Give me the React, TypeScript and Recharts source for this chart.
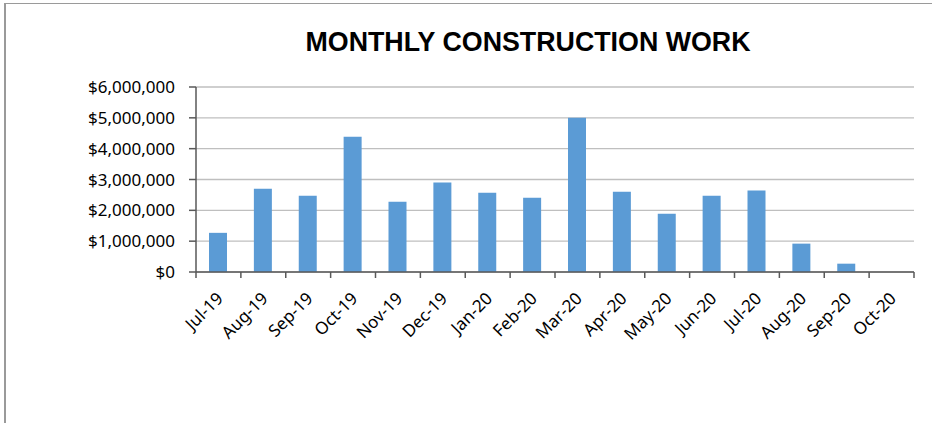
import React from "react";
import { BarChart, Bar, XAxis, YAxis, CartesianGrid } from "recharts";

const months = [
  "Jul-19", "Aug-19", "Sep-19", "Oct-19", "Nov-19", "Dec-19", "Jan-20", "Feb-20",
  "Mar-20", "Apr-20", "May-20", "Jun-20", "Jul-20", "Aug-20", "Sep-20", "Oct-20",
];
const workValues = [
  1270000, 2700000, 2470000, 4390000, 2280000, 2900000, 2570000, 2410000,
  5000000, 2600000, 1890000, 2470000, 2640000, 920000, 270000, 0,
];
const yTicks = [0, 1000000, 2000000, 3000000, 4000000, 5000000, 6000000];

const data = months.map((m, i) => ({ month: m, value: workValues[i] }));

const W = 932;
const H = 423;
const PLOT_LEFT = 196;
const PLOT_RIGHT = 914;
const PLOT_TOP = 87;
const PLOT_BOTTOM = 272;
const BAND = (PLOT_RIGHT - PLOT_LEFT) / months.length;
const AXIS = "#595959";
const TITLE_FONT = "'Liberation Sans', Arial, sans-serif";
const FONT = "'Noto Sans', 'Open Sans', sans-serif";

const money = (v: number) => "$" + v.toLocaleString("en-US");

const MonthTick = (props: any) => {
  const { x, y, payload, index } = props;
  const last = index === months.length - 1;
  return (
    <g>
      <line x1={x - BAND / 2} x2={x - BAND / 2} y1={y} y2={y + 6} stroke={AXIS} strokeWidth={1.5} />
      {last && <line x1={x + BAND / 2} x2={x + BAND / 2} y1={y} y2={y + 6} stroke={AXIS} strokeWidth={1.5} />}
      <text
        transform={`translate(${x + 1},${y + 23}) rotate(-45)`}
        textAnchor="end"
        dominantBaseline="central"
        fontSize={17}
        fontFamily={FONT}
        fill="#000"
      >
        {payload.value}
      </text>
    </g>
  );
};

export default function App() {
  return (
    <div style={{ position: "fixed", left: 0, top: 0, width: W, height: H, overflow: "hidden", background: "#fff" }}>
      <div
        style={{
          position: "absolute",
          left: 4,
          top: 3,
          width: 2000,
          height: 1000,
          borderLeft: "2px solid #9a9a9a",
          borderTop: "1px solid #9a9a9a",
        }}
      />
      <svg width={W} height={70} style={{ position: "absolute", left: 0, top: 0 }}>
        <text
          x={528}
          y={51}
          textAnchor="middle"
          fontFamily={TITLE_FONT}
          fontWeight="bold"
          fontSize={27}
          textLength={445}
          lengthAdjust="spacingAndGlyphs"
          fill="#000"
        >
          MONTHLY CONSTRUCTION WORK
        </text>
      </svg>
      <div style={{ position: "absolute", left: 0, top: 0 }}>
        <BarChart
          width={W}
          height={H}
          data={data}
          margin={{ top: PLOT_TOP, left: 80, right: W - PLOT_RIGHT, bottom: H - PLOT_BOTTOM - 60 }}
        >
          <CartesianGrid vertical={false} stroke="#bfbfbf" strokeWidth={1.3} />
          <XAxis
            dataKey="month"
            height={60}
            interval={0}
            tickLine={false}
            tickSize={0}
            tickMargin={0}
            tick={<MonthTick />}
            axisLine={{ stroke: AXIS, strokeWidth: 1.5 }}
          />
          <YAxis
            width={116}
            domain={[0, 6000000]}
            ticks={yTicks}
            interval={0}
            tickFormatter={money}
            tickSize={7}
            tickMargin={14}
            tick={{ fill: "#000", fontSize: 17, fontFamily: FONT }}
            tickLine={{ stroke: AXIS, strokeWidth: 1.5 }}
            axisLine={{ stroke: AXIS, strokeWidth: 1.5 }}
          />
          <Bar dataKey="value" fill="#5b9bd5" barSize={18} isAnimationActive={false} />
        </BarChart>
      </div>
    </div>
  );
}
